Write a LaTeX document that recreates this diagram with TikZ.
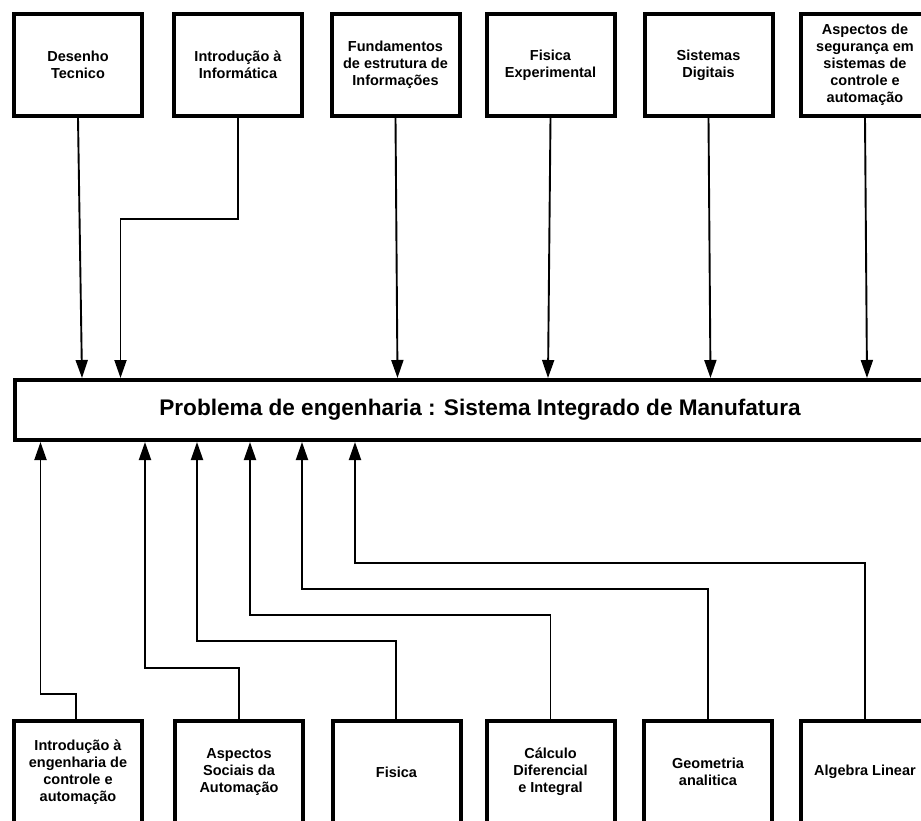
\documentclass[tikz,border=0pt]{standalone}
\usepackage{fontspec}
\setmainfont{Liberation Sans}
\usetikzlibrary{arrows.meta}
\begin{document}
\begin{tikzpicture}[x=1pt,y=-1pt,
  course/.style={draw=black,line width=4pt,fill=white,minimum width=128pt,
    minimum height=102pt,inner sep=2pt,align=center,
    font=\bfseries\fontsize{14.5}{17}\selectfont},
  problem/.style={draw=black,line width=4pt,fill=white,minimum width=930pt,
    minimum height=60pt,inner sep=0pt,
    font=\bfseries\fontsize{22.6}{26}\selectfont},
  link/.style={draw=black,line width=1.9pt},
  arr/.style={link,-{Triangle[length=18pt,width=12pt]}}]
\useasboundingbox (0,0) rectangle (921,821);
\clip (0,0) rectangle (921,821);

% central problem
\node[problem] (main) at (480,410) {Problema de engenharia : Sistema Integrado de Manufatura};

% upper row of courses
\node[course] (t1) at (78,65)    {Desenho\\Tecnico};
\node[course] (t2) at (238,65)   {Introdução à\\Informática};
\node[course] (t3) at (395.5,65) {Fundamentos\\de estrutura de\\Informações};
\node[course] (t4) at (550.5,65) {Fisica\\Experimental};
\node[course] (t5) at (708.5,65) {Sistemas\\Digitais};
\node[course] (t6) at (865,65)   {Aspectos de\\segurança em\\sistemas de\\controle e\\automação};

% lower row of courses
\node[course] (b1) at (78,772)    {Introdução à\\engenharia de\\controle e\\automação};
\node[course] (b2) at (239,772)   {Aspectos\\Sociais da\\Automação};
\node[course] (b3) at (396.5,772) {Fisica};
\node[course] (b4) at (550.5,772) {Cálculo\\Diferencial\\e Integral};
\node[course] (b5) at (708,772)   {Geometria\\analitica};
\node[course] (b6) at (865,772)   {Algebra Linear};

% entry points on the top edge of the problem box
\coordinate (i1) at (82,378);
\coordinate (i2) at (120.5,378);
\coordinate (i3) at (397.5,378);
\coordinate (i4) at (548,378);
\coordinate (i5) at (710.5,378);
\coordinate (i6) at (867,378);

% entry points on the bottom edge of the problem box
\coordinate (o1) at (40.5,442);
\coordinate (o2) at (145,442);
\coordinate (o3) at (197,442);
\coordinate (o4) at (250,442);
\coordinate (o5) at (302,442);
\coordinate (o6) at (355,442);

% bend levels
\coordinate (k0) at (0,219);
\coordinate (k1) at (0,694);
\coordinate (k2) at (0,668);
\coordinate (k3) at (0,641);
\coordinate (k4) at (0,615);
\coordinate (k5) at (0,589);
\coordinate (k6) at (0,563);

% upper connectors
\draw[arr] (t1.south) -- (i1);
\draw[arr] (t2.south) -- (t2.south |- k0) -| (i2);
\draw[arr] (t3.south) -- (i3);
\draw[arr] (t4.south) -- (i4);
\draw[arr] (t5.south) -- (i5);
\draw[arr] (t6.south) -- (i6);

% lower connectors
\draw[arr] ([xshift=-2pt]b1.north) -- ([xshift=-2pt]b1.north |- k1) -| (o1);
\draw[arr] (b2.north) -- (b2.north |- k2) -| (o2);
\draw[arr] ([xshift=-0.5pt]b3.north) -- ([xshift=-0.5pt]b3.north |- k3) -| (o3);
\draw[arr] (b4.north) -- (b4.north |- k4) -| (o4);
\draw[arr] (b5.north) -- (b5.north |- k5) -| (o5);
\draw[arr] (b6.north) -- (b6.north |- k6) -| (o6);
\end{tikzpicture}
\end{document}
